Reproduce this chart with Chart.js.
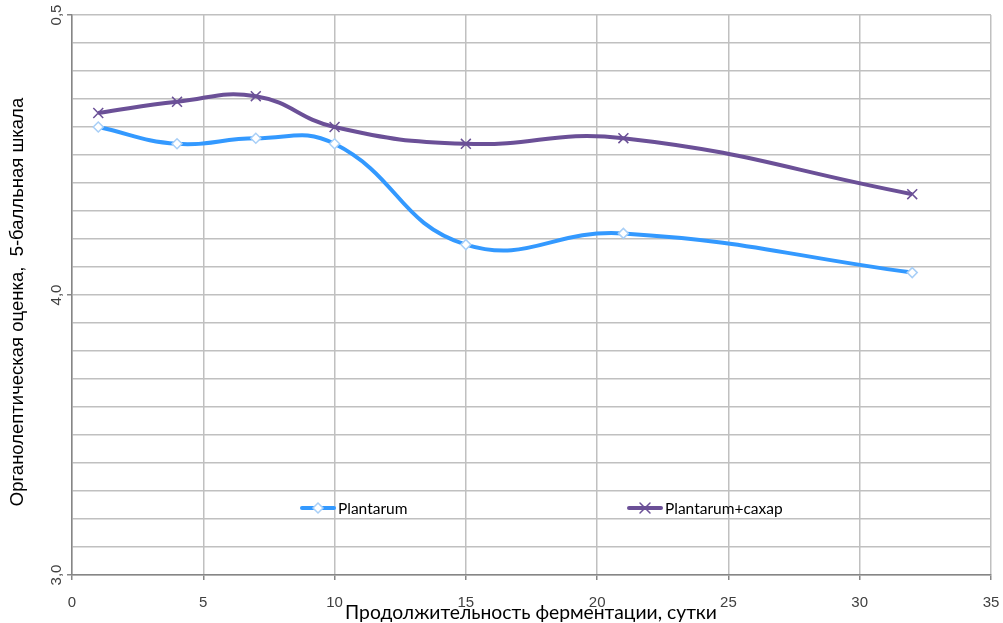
<!DOCTYPE html>
<html>
<head>
<meta charset="utf-8">
<script src="https://cdn.jsdelivr.net/npm/chart.js@4"></script>
<style>
  html, body { margin: 0; padding: 0; background: #fff; }
  #wrap { width: 1003px; height: 623px; position: relative; }
</style>
</head>
<body>
<div id="wrap"><canvas id="chart" width="1003" height="623"></canvas></div>
<script>
// days of fermentation
const days = [1, 4, 7, 10, 15, 21, 32]
const plantarum = [4.60, 4.54, 4.56, 4.54, 4.18, 4.22, 4.08]
const plantarumSugar = [4.65, 4.69, 4.71, 4.60, 4.54, 4.56, 4.36]
const seriesNames = ['Plantarum', 'Plantarum+сахар']
// labels printed on the y axis (the top one really reads "0,5" in the source)
const yTickLabels = { 3: '3,0', 4: '4,0', 5: '0,5' }
const xTitle = 'Продолжительность ферментации, сутки'
const yTitle = 'Органолептическая оценка,  5-балльная шкала'

const blue = '#3399ff'
const purple = '#6b5097'

function points(xs, ys) {
  return xs.map((x, i) => ({ x: x, y: ys[i] }))
}

// y tick labels, axis titles and the in-plot legend
const extras = {
  id: 'extras',
  afterDraw(chart) {
    const ctx = chart.ctx
    const y = chart.scales.y
    const area = chart.chartArea
    ctx.save()
    ctx.fillStyle = '#404040'
    ctx.font = '15px "Liberation Sans", Arial, sans-serif'
    ctx.textAlign = 'center'
    ctx.textBaseline = 'middle'
    Object.keys(yTickLabels).forEach((v) => {
      ctx.save()
      ctx.translate(area.left - 15, y.getPixelForValue(Number(v)))
      ctx.rotate(-Math.PI / 2)
      ctx.fillText(yTickLabels[v], 0, 0)
      ctx.restore()
    })

    ctx.fillStyle = '#000'
    ctx.font = '18.5px "Liberation Sans", Arial, sans-serif'
    ctx.save()
    ctx.translate(18, (area.top + area.bottom) / 2 + 7)
    ctx.rotate(-Math.PI / 2)
    ctx.fillText(yTitle, 0, 0)
    ctx.restore()

    ctx.font = '19.3px Lato, "Open Sans", sans-serif'
    ctx.fillText(xTitle, 531, 613)

    // legend
    const ly = area.top + 493
    const items = [
      { x: 300, ds: chart.data.datasets[0] },
      { x: 627, ds: chart.data.datasets[1] },
    ]
    items.forEach((it) => {
      ctx.strokeStyle = it.ds.borderColor
      ctx.lineWidth = 4
      ctx.lineCap = 'round'
      ctx.beginPath()
      ctx.moveTo(it.x + 2, ly)
      ctx.lineTo(it.x + 34, ly)
      ctx.stroke()
      const cx = it.x + 18
      if (it.ds.pointStyle === 'rectRot') {
        ctx.fillStyle = '#fff'
        ctx.strokeStyle = it.ds.pointBorderColor
        ctx.lineWidth = 1.5
        ctx.beginPath()
        ctx.moveTo(cx, ly - 5)
        ctx.lineTo(cx + 5, ly)
        ctx.lineTo(cx, ly + 5)
        ctx.lineTo(cx - 5, ly)
        ctx.closePath()
        ctx.fill()
        ctx.stroke()
      } else {
        ctx.strokeStyle = it.ds.pointBorderColor
        ctx.lineWidth = 1.5
        ctx.beginPath()
        ctx.moveTo(cx - 5, ly - 5)
        ctx.lineTo(cx + 5, ly + 5)
        ctx.moveTo(cx + 5, ly - 5)
        ctx.lineTo(cx - 5, ly + 5)
        ctx.stroke()
      }
      ctx.fillStyle = '#000'
      ctx.textAlign = 'left'
      ctx.font = '15.5px Lato, "Open Sans", sans-serif'
      ctx.fillText(it.ds.label, it.x + 38, ly + 1)
    })
    ctx.restore()
  },
}

new Chart(document.getElementById('chart'), {
  type: 'line',
  data: {
    datasets: [
      {
        label: seriesNames[0],
        data: points(days, plantarum),
        borderColor: blue,
        borderWidth: 4,
        tension: 0.45,
        pointStyle: 'rectRot',
        pointRadius: 5,
        pointBackgroundColor: '#fff',
        pointBorderColor: '#a8cff7',
        pointBorderWidth: 1.5,
      },
      {
        label: seriesNames[1],
        data: points(days, plantarumSugar),
        borderColor: purple,
        borderWidth: 4,
        tension: 0.45,
        pointStyle: 'crossRot',
        pointRadius: 7,
        pointBorderColor: purple,
        pointBorderWidth: 1.5,
      },
    ],
  },
  options: {
    responsive: false,
    animation: false,
    layout: { padding: { top: 15, right: 12, left: 0, bottom: 0 } },
    plugins: {
      legend: { display: false },
      tooltip: { enabled: false },
    },
    scales: {
      x: {
        type: 'linear',
        min: 0,
        max: 35,
        ticks: {
          stepSize: 5,
          padding: 14,
          color: '#404040',
          font: { size: 15, family: '"Liberation Sans", Arial, sans-serif' },
        },
        grid: { color: '#c0c0c0', lineWidth: 1.5, tickLength: 5, tickColor: '#868686' },
        border: { color: '#868686', width: 1.5 },
        afterFit(scale) {
          scale.height = 48
          scale.paddingLeft = 0
          scale.paddingRight = 0
        },
      },
      y: {
        min: 3,
        max: 5,
        ticks: { stepSize: 0.1, display: false },
        grid: {
          color: '#c0c0c0',
          lineWidth: 1.5,
          tickLength: 5,
          tickColor: (c) => (Math.abs(c.tick.value - Math.round(c.tick.value)) < 1e-6 ? '#868686' : 'rgba(0,0,0,0)'),
        },
        border: { color: '#868686', width: 1.5 },
        afterFit(scale) { scale.width = 72 },
      },
    },
  },
  plugins: [extras],
})
</script>
</body>
</html>
